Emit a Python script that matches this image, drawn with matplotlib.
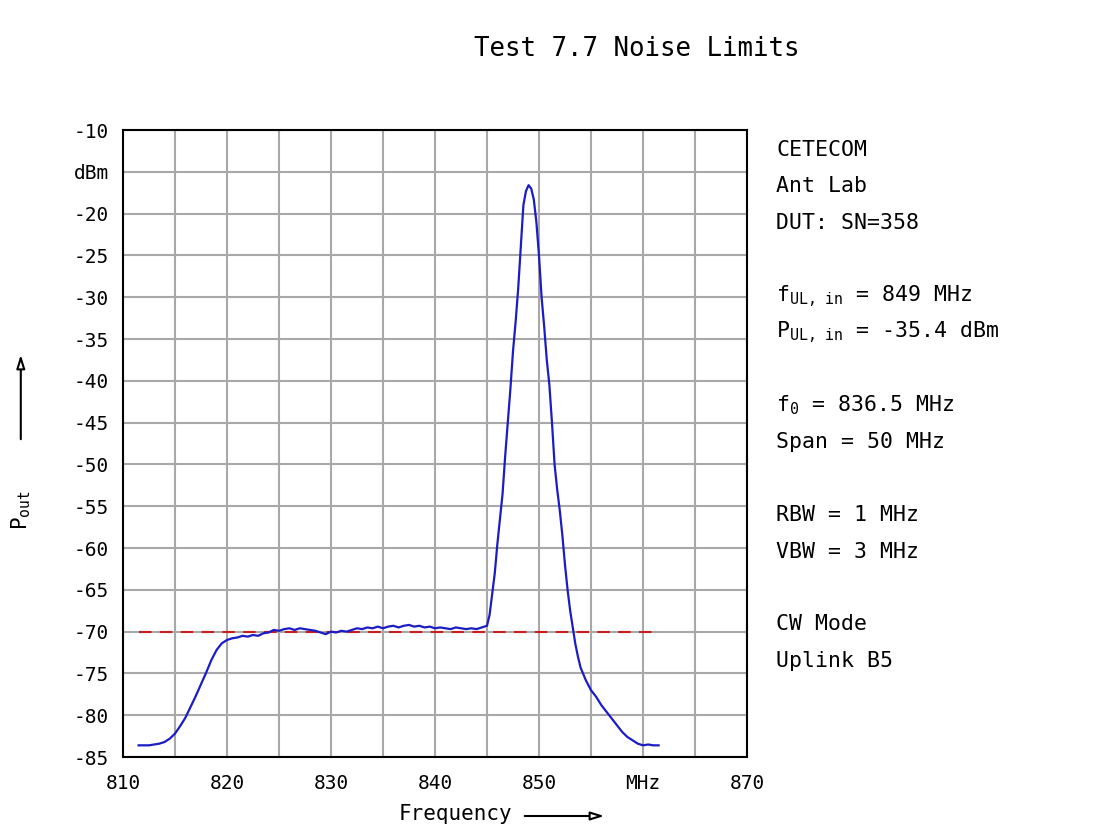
import matplotlib
matplotlib.use('Agg')
import matplotlib.pyplot as plt

# 频谱数据 (MHz, dBm)
freq = [811.5, 812.0, 812.5, 813.0, 813.5, 814.0, 814.5, 815.0, 815.5, 816.0,
        816.5, 817.0, 817.5, 818.0, 818.5, 819.0, 819.5, 820.0, 820.5, 821.0,
        821.5, 822.0, 822.5, 823.0, 823.5, 824.0, 824.5, 825.0, 825.5, 826.0,
        826.5, 827.0, 827.5, 828.0, 828.5, 829.0, 829.5, 830.0, 830.5, 831.0,
        831.5, 832.0, 832.5, 833.0, 833.5, 834.0, 834.5, 835.0, 835.5, 836.0,
        836.5, 837.0, 837.5, 838.0, 838.5, 839.0, 839.5, 840.0, 840.5, 841.0,
        841.5, 842.0, 842.5, 843.0, 843.5, 844.0, 844.5, 845.0, 845.25, 845.5,
        845.75, 846.0, 846.25, 846.5, 846.75, 847.0, 847.25, 847.5, 847.75, 848.0,
        848.25, 848.5, 848.75, 849.0, 849.25, 849.5, 849.75, 850.0, 850.25, 850.5,
        850.75, 851.0, 851.25, 851.5, 851.75, 852.0, 852.25, 852.5, 852.75, 853.0,
        853.25, 853.5, 853.75, 854.0, 854.5, 855.0, 855.5, 856.0, 856.5, 857.0,
        857.5, 858.0, 858.5, 859.0, 859.5, 860.0, 860.5, 861.0, 861.5]
level = [-83.6, -83.6, -83.6, -83.5, -83.4, -83.2, -82.8, -82.2, -81.3, -80.3,
         -79.0, -77.7, -76.3, -74.9, -73.4, -72.2, -71.4, -71.0, -70.8, -70.7,
         -70.5, -70.6, -70.4, -70.5, -70.2, -70.1, -69.8, -69.9, -69.7, -69.6,
         -69.8, -69.6, -69.7, -69.8, -69.9, -70.1, -70.3, -70.0, -70.1, -69.9,
         -70.0, -69.8, -69.6, -69.7, -69.5, -69.6, -69.4, -69.6, -69.4, -69.3,
         -69.5, -69.3, -69.2, -69.4, -69.3, -69.5, -69.4, -69.6, -69.5, -69.6,
         -69.7, -69.5, -69.6, -69.7, -69.6, -69.7, -69.5, -69.3, -68.0, -65.5,
         -63.0, -59.5, -56.5, -53.5, -49.0, -45.0, -41.0, -36.5, -33.0, -29.0,
         -24.0, -19.0, -17.3, -16.6, -17.0, -18.3, -21.0, -25.0, -30.0, -33.5,
         -37.5, -40.5, -45.0, -50.0, -53.0, -55.5, -58.5, -62.0, -65.0, -67.5,
         -69.5, -71.5, -73.0, -74.3, -75.8, -77.0, -77.8, -78.8, -79.6, -80.4,
         -81.2, -82.0, -82.6, -83.0, -83.4, -83.6, -83.5, -83.6, -83.6]

# 限值线
limit_freq = [811.5, 861.5]
limit_level = [-70, -70]

xticks = [810, 820, 830, 840, 850, 860, 870]
xticklabels = ['810', '820', '830', '840', '850', 'MHz', '870']
yticks = [-10, -15, -20, -25, -30, -35, -40, -45, -50, -55, -60, -65, -70, -75, -80, -85]
yticklabels = ['-10', 'dBm', '-20', '-25', '-30', '-35', '-40', '-45', '-50',
               '-55', '-60', '-65', '-70', '-75', '-80', '-85']

info_lines = ['CETECOM', 'Ant Lab', 'DUT: SN=358', '',
              r'f$_{\rm UL,\ in}$ = 849 MHz', r'P$_{\rm UL,\ in}$ = -35.4 dBm', '',
              r'f$_{\rm 0}$ = 836.5 MHz', 'Span = 50 MHz', '',
              'RBW = 1 MHz', 'VBW = 3 MHz', '',
              'CW Mode', 'Uplink B5']

plt.rcParams['font.family'] = ['DejaVu Sans Mono', 'DejaVu Sans']
plt.rcParams['mathtext.fontset'] = 'custom'
plt.rcParams['mathtext.rm'] = 'DejaVu Sans Mono'
plt.rcParams['axes.unicode_minus'] = False

fig = plt.figure(figsize=(10.94, 8.27), dpi=100)
ax = fig.add_axes([0.1124, 0.0846, 0.5704, 0.7582])

ax.plot(freq, level, color='#1c1cc4', lw=1.6, zorder=3)
ax.plot(limit_freq, limit_level, color='#c81e1e', lw=1.5, dashes=(6, 4), zorder=2)

ax.set_xlim(810, 870)
ax.set_ylim(-85, -10)
ax.set_xticks(xticks)
ax.set_xticklabels(xticklabels)
ax.set_yticks(yticks)
ax.set_yticklabels(yticklabels)
ax.set_xticks([815, 825, 835, 845, 855, 865], minor=True)
ax.tick_params(which='both', length=0, labelsize=14)
ax.tick_params(axis='x', pad=12)
ax.tick_params(axis='y', pad=10)
ax.grid(True, which='both', color='#a8a8a8', lw=1.5)
for s in ax.spines.values():
    s.set_linewidth(1.5)

fig.text(0.582, 0.941, 'Test 7.7 Noise Limits', ha='center', va='center', fontsize=18.5)

# 右侧说明文字
y0 = 1 - 150 / 827
for i, t in enumerate(info_lines):
    if t:
        fig.text(776 / 1094, y0 - i * 36.5 / 827, t, ha='left', va='center', fontsize=15.5)

# 坐标轴标题与箭头
fig.text(0.019, 1 - 510 / 827, r'P$_{\rm out}$', rotation=90, ha='center', va='center', fontsize=15)
ax.annotate('', xy=(0.019, 1 - 352 / 827), xytext=(0.019, 1 - 442 / 827),
            xycoords='figure fraction', textcoords='figure fraction',
            arrowprops=dict(arrowstyle='-|>,head_length=0.8,head_width=0.25', fc='white', ec='black', lw=1.5))
fig.text(455 / 1094, 1 - 814 / 827, 'Frequency', ha='center', va='center', fontsize=15)
ax.annotate('', xy=(607 / 1094, 1 - 816 / 827), xytext=(522 / 1094, 1 - 816 / 827),
            xycoords='figure fraction', textcoords='figure fraction',
            arrowprops=dict(arrowstyle='-|>,head_length=0.8,head_width=0.25', fc='white', ec='black', lw=1.5))

fig.savefig('out.png', dpi=100)
